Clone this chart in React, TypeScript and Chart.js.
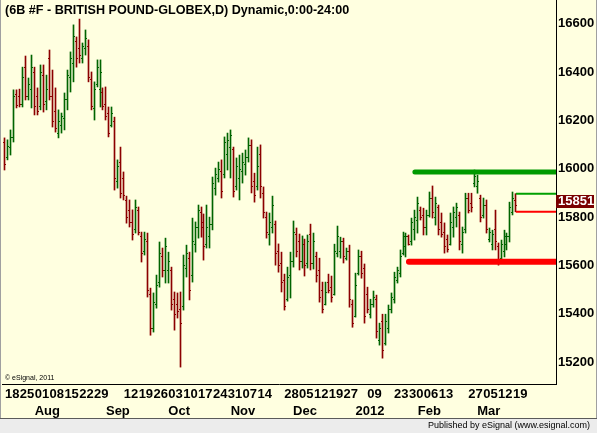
import React, { useEffect, useRef } from 'react';
import { Chart, registerables } from 'chart.js';

Chart.register(...registerables);

const TITLE = '(6B #F - BRITISH POUND-GLOBEX,D) Dynamic,0:00-24:00';
const COPYRIGHT = '\u00A9 eSignal, 2011';
const PUBLISHER = 'Published by eSignal (www.esignal.com)';

const OPEN = [
  16110, 16050, 16090, 16130, 16310, 16300, 16270, 16420, 16300, 16330,
  16400, 16300, 16260, 16390, 16280, 16460, 16300, 16240, 16150, 16180,
  16210, 16290, 16380, 16440, 16530, 16500, 16460, 16500, 16510, 16370,
  16250, 16350, 16330, 16320, 16270, 16230, 16180, 16200, 15950, 16030,
  15960, 15870, 15830, 15780, 15750, 15830, 15720, 15660, 15700, 15480,
  15340, 15440, 15530, 15640, 15580, 15580, 15580, 15460, 15440, 15420,
  15430, 15590, 15630, 15560, 15690, 15760, 15820, 15780, 15690, 15720,
  15770, 15920, 15960, 15990, 15980, 16060, 16090, 16080, 15930, 15960,
  15990, 16020, 16050, 16100, 15950, 15930, 16060, 15900, 15800, 15730,
  15760, 15770, 15660, 15610, 15540, 15460, 15560, 15620, 15730, 15700,
  15620, 15690, 15610, 15730, 15610, 15640, 15580, 15500, 15440, 15530,
  15510, 15480, 15650, 15660, 15700, 15630, 15660, 15440, 15390, 15570,
  15640, 15590, 15480, 15400, 15440, 15460, 15290, 15370, 15280, 15340,
  15420, 15460, 15540, 15570, 15650, 15680, 15720, 15700, 15750, 15790,
  15830, 15810, 15760, 15810, 15880, 15800, 15840, 15780, 15740, 15710,
  15690, 15760, 15800, 15810, 15690, 15750, 15880, 15860, 15940, 15930,
  15880, 15810, 15850, 15710, 15690, 15750, 15680, 15630, 15660, 15690,
  15720, 15820, 15870,
];

const HIGH = [
  16128, 16120, 16161, 16327, 16327, 16330, 16421, 16467, 16376, 16471,
  16421, 16335, 16430, 16430, 16388, 16492, 16409, 16335, 16244, 16231,
  16314, 16409, 16484, 16596, 16546, 16620, 16521, 16575, 16534, 16401,
  16360, 16451, 16451, 16335, 16339, 16256, 16256, 16214, 16037, 16090,
  15987, 15887, 15871, 15830, 15871, 15842, 15738, 15738, 15734, 15506,
  15486, 15560, 15697, 15672, 15713, 15655, 15593, 15490, 15486, 15490,
  15643, 15684, 15655, 15796, 15780, 15850, 15842, 15813, 15850, 15800,
  15966, 16003, 16028, 16037, 16132, 16148, 16161, 16090, 16045, 16057,
  16065, 16078, 16128, 16120, 15982, 16090, 16099, 15925, 15821, 15817,
  15887, 15784, 15689, 15655, 15564, 15593, 15655, 15784, 15755, 15730,
  15722, 15709, 15726, 15771, 15734, 15655, 15630, 15531, 15531, 15564,
  15556, 15688, 15763, 15717, 15713, 15672, 15684, 15457, 15568, 15664,
  15659, 15606, 15510, 15460, 15494, 15477, 15361, 15398, 15398, 15436,
  15486, 15572, 15593, 15664, 15738, 15734, 15726, 15796, 15829, 15883,
  15842, 15837, 15829, 15904, 15929, 15883, 15850, 15817, 15776, 15726,
  15817, 15842, 15858, 15821, 15759, 15899, 15899, 15899, 15995, 15974,
  15891, 15879, 15871, 15755, 15746, 15829, 15693, 15705, 15746, 15734,
  15862, 15904, 15897,
];

const LOW = [
  15995, 16037, 16057, 16111, 16252, 16256, 16256, 16285, 16285, 16252,
  16223, 16223, 16244, 16235, 16244, 16285, 16173, 16152, 16128, 16148,
  16161, 16244, 16318, 16360, 16421, 16438, 16438, 16471, 16360, 16244,
  16202, 16339, 16256, 16244, 16202, 16132, 16173, 15912, 15920, 15879,
  15871, 15775, 15759, 15705, 15734, 15726, 15614, 15643, 15469, 15311,
  15324, 15423, 15510, 15552, 15527, 15527, 15415, 15332, 15382, 15179,
  15415, 15552, 15457, 15531, 15655, 15713, 15717, 15622, 15672, 15672,
  15747, 15891, 15945, 15879, 15962, 15995, 15962, 15883, 15912, 15871,
  15941, 15974, 16028, 15900, 15862, 15912, 15879, 15796, 15713, 15684,
  15734, 15601, 15572, 15490, 15415, 15452, 15465, 15593, 15635, 15581,
  15589, 15556, 15589, 15581, 15585, 15531, 15448, 15403, 15436, 15486,
  15448, 15477, 15635, 15630, 15610, 15622, 15427, 15344, 15386, 15560,
  15547, 15361, 15403, 15382, 15427, 15299, 15270, 15216, 15270, 15320,
  15403, 15444, 15527, 15552, 15643, 15635, 15684, 15684, 15705, 15734,
  15788, 15726, 15726, 15800, 15796, 15767, 15726, 15717, 15651, 15655,
  15684, 15717, 15759, 15664, 15651, 15734, 15817, 15821, 15925, 15899,
  15780, 15796, 15734, 15697, 15664, 15664, 15601, 15622, 15635, 15664,
  15697, 15809, 15822,
];

const CLOSE = [
  16020, 16095, 16130, 16300, 16265, 16270, 16380, 16300, 16350, 16420,
  16260, 16240, 16400, 16270, 16330, 16300, 16200, 16170, 16200, 16220,
  16290, 16390, 16460, 16550, 16460, 16470, 16510, 16540, 16380, 16260,
  16330, 16420, 16400, 16260, 16220, 16150, 16230, 15960, 16010, 15900,
  15890, 15800, 15780, 15730, 15840, 15740, 15650, 15710, 15500, 15340,
  15450, 15520, 15650, 15580, 15680, 15620, 15440, 15400, 15410, 15360,
  15600, 15650, 15500, 15700, 15760, 15830, 15760, 15680, 15760, 15770,
  15940, 15980, 16000, 15910, 16110, 16120, 16140, 15910, 16010, 16000,
  16030, 16050, 16100, 15930, 15890, 16010, 15930, 15820, 15740, 15780,
  15850, 15650, 15600, 15530, 15430, 15550, 15620, 15740, 15660, 15620,
  15690, 15600, 15700, 15610, 15700, 15560, 15470, 15420, 15490, 15500,
  15470, 15660, 15720, 15700, 15640, 15660, 15460, 15360, 15520, 15640,
  15570, 15390, 15420, 15440, 15470, 15330, 15340, 15250, 15370, 15420,
  15470, 15550, 15580, 15640, 15720, 15720, 15690, 15780, 15800, 15860,
  15800, 15760, 15810, 15880, 15820, 15860, 15750, 15730, 15680, 15670,
  15780, 15820, 15840, 15700, 15740, 15880, 15830, 15840, 15970, 15950,
  15800, 15850, 15750, 15740, 15730, 15700, 15620, 15690, 15720, 15720,
  15840, 15880, 15851,
];

const DAY_TICK_INDEX = [0, 5, 10, 15, 20, 25, 30, 40, 45, 50, 55, 60, 65, 70, 75, 80, 85, 94, 99, 104, 109, 114, 122, 131, 136, 141, 146, 156, 161, 166, 171];
const DAY_TICK_LABELS = ['18', '25', '01', '08', '15', '22', '29', '12', '19', '26', '03', '10', '17', '24', '31', '07', '14', '28', '05', '12', '19', '27', '09', '23', '30', '06', '13', '27', '05', '12', '19'];
const MONTH_TICK_INDEX = [10, 34, 55, 76, 97, 118, 139, 159];
const MONTH_LABELS = ['Aug', 'Sep', 'Oct', 'Nov', 'Dec', '2012', 'Feb', 'Mar'];
const Y_TICKS = [15200, 15400, 15600, 15800, 16000, 16200, 16400, 16600];

const Y_MIN = 15109;
const Y_MAX = 16699;
const X_MIN = -1;
const X_MAX = 185.5;

const RESISTANCE = 15987;
const RES_START = 138;
const SUPPORT = 15615;
const SUP_START = 136;

const GREEN = '#006400';
const RED = '#8b0000';
const FONT = "'Liberation Sans', Arial, sans-serif";
const BAR_DS = 4;

export default function App() {
  const ref = useRef<HTMLCanvasElement>(null);

  useEffect(() => {
    const canvas = ref.current;
    if (!canvas) return;
    const n = HIGH.length;
    const last = n - 1;
    const colors = CLOSE.map((c, i) => (c >= OPEN[i] ? GREEN : RED));

    const decor = {
      id: 'decor',
      beforeDraw(chart: any) {
        const { ctx, width, height } = chart;
        ctx.save();
        ctx.fillStyle = '#ffffe0';
        ctx.fillRect(0, 0, width, 418);
        ctx.fillStyle = '#ececec';
        ctx.fillRect(0, 418, width, height - 418);
        ctx.fillStyle = '#5a5a5a';
        ctx.fillRect(0, 418, width, 1);
        ctx.fillStyle = '#a0a0a0';
        ctx.fillRect(0, 0, 1, 418);
        ctx.fillRect(width - 1, 0, 1, 418);
        ctx.restore();
      },
      afterDraw(chart: any) {
        const { ctx } = chart;
        ctx.save();
        ctx.fillStyle = '#000';
        ctx.textBaseline = 'middle';
        ctx.textAlign = 'left';
        ctx.font = `bold 12.6px ${FONT}`;
        ctx.fillText(TITLE, 5, 11);
        ctx.font = `7px ${FONT}`;
        ctx.fillText(COPYRIGHT, 5, 378);
        ctx.font = `9px ${FONT}`;
        ctx.textAlign = 'right';
        ctx.fillText(PUBLISHER, 590, 426);
        const ys = chart.scales.y;
        const xr = chart.chartArea.right;
        const yp = Math.round(ys.getPixelForValue(CLOSE[last]));
        ctx.fillStyle = '#7a0000';
        ctx.fillRect(xr, yp - 10, 38, 13);
        ctx.fillStyle = '#ffffff';
        ctx.textAlign = 'left';
        ctx.font = `bold 13px ${FONT}`;
        ctx.fillText(String(CLOSE[last]), xr + 2, yp - 3.5);
        ctx.restore();
      },
    };

    const ohlcTicks = {
      id: 'ohlcTicks',
      beforeDatasetDraw(chart: any, args: any) {
        if (args.index !== BAR_DS) return;
        args.meta.data.forEach((el: any) => {
          el.x = Math.round(el.x - 0.5) + 0.5;
        });
      },
      afterDatasetDraw(chart: any, args: any) {
        if (args.index !== BAR_DS) return;
        const ctx = chart.ctx;
        const ys = chart.scales.y;
        ctx.save();
        args.meta.data.forEach((el: any, i: number) => {
          const col = Math.floor(el.x);
          ctx.fillStyle = colors[i];
          ctx.fillRect(col - 1, Math.round(ys.getPixelForValue(OPEN[i])), 1, 1);
          ctx.fillRect(col + 1, Math.round(ys.getPixelForValue(CLOSE[i])), 1, 1);
        });
        ctx.restore();
      },
    };

    const tickFont = { family: FONT, size: 13, weight: 'bold' as const };

    const chart = new Chart(canvas, {
      type: 'bar',
      data: {
        datasets: [
          {
            type: 'line',
            data: [{ x: RES_START, y: RESISTANCE }, { x: X_MAX, y: RESISTANCE }],
            borderColor: '#009a00',
            borderWidth: 5,
            borderCapStyle: 'round',
            pointRadius: 0,
            fill: false,
            clip: 0,
          } as any,
          {
            type: 'line',
            data: [{ x: SUP_START, y: SUPPORT }, { x: X_MAX, y: SUPPORT }],
            borderColor: '#ff0000',
            borderWidth: 6,
            borderCapStyle: 'round',
            pointRadius: 0,
            fill: false,
            clip: 0,
          } as any,
          {
            type: 'line',
            data: [{ x: last, y: HIGH[last] }, { x: X_MAX, y: HIGH[last] }],
            borderColor: '#00a000',
            borderWidth: 2,
            pointRadius: 0,
            fill: false,
            clip: 0,
          } as any,
          {
            type: 'line',
            data: [{ x: last, y: LOW[last] }, { x: X_MAX, y: LOW[last] }],
            borderColor: '#ff0000',
            borderWidth: 2,
            pointRadius: 0,
            fill: false,
            clip: 0,
          } as any,
          {
            type: 'bar',
            data: HIGH.map((h, i) => ({ x: i, y: [LOW[i], h] })),
            backgroundColor: colors,
            borderWidth: 0,
            barThickness: 1,
            grouped: false,
          } as any,
        ],
      },
      options: {
        animation: false,
        responsive: false,
        devicePixelRatio: 1,
        events: [],
        layout: { padding: { left: 2, right: 0, top: 0, bottom: 15 } },
        plugins: { legend: { display: false }, tooltip: { enabled: false }, title: { display: false } },
        scales: {
          x: {
            type: 'linear',
            position: 'bottom',
            weight: 0,
            min: X_MIN,
            max: X_MAX,
            offset: false,
            grid: { display: false, drawTicks: false },
            border: { display: true, color: '#000', width: 1 },
            afterBuildTicks: (s: any) => {
              s.ticks = DAY_TICK_INDEX.map((v) => ({ value: v }));
            },
            afterFit: (s: any) => {
              s.height = 18;
              s.paddingLeft = 0;
              s.paddingRight = 0;
            },
            ticks: {
              autoSkip: false,
              maxRotation: 0,
              minRotation: 0,
              align: 'start',
              padding: 3,
              font: tickFont,
              color: '#000',
              callback: (_v: any, i: number) => DAY_TICK_LABELS[i],
            },
          } as any,
          x2: {
            type: 'linear',
            axis: 'x',
            position: 'bottom',
            weight: 1,
            min: X_MIN,
            max: X_MAX,
            offset: false,
            grid: { display: false, drawTicks: false },
            border: { display: false },
            afterBuildTicks: (s: any) => {
              s.ticks = MONTH_TICK_INDEX.map((v) => ({ value: v }));
            },
            afterFit: (s: any) => {
              s.height = 16;
              s.paddingLeft = 0;
              s.paddingRight = 0;
            },
            ticks: {
              autoSkip: false,
              maxRotation: 0,
              minRotation: 0,
              align: 'start',
              padding: 2,
              font: tickFont,
              color: '#000',
              callback: (_v: any, i: number) => MONTH_LABELS[i],
            },
          } as any,
          y: {
            type: 'linear',
            position: 'right',
            min: Y_MIN,
            max: Y_MAX,
            grid: { display: false, drawTicks: false },
            border: { display: true, color: '#000', width: 1 },
            afterBuildTicks: (s: any) => {
              s.ticks = Y_TICKS.map((v) => ({ value: v }));
            },
            afterFit: (s: any) => {
              s.width = 41;
              s.paddingTop = 0;
              s.paddingBottom = 0;
            },
            ticks: {
              padding: 2,
              font: tickFont,
              color: '#000',
              callback: (v: any) => String(v),
            },
          } as any,
        },
      },
      plugins: [decor, ohlcTicks],
    } as any);

    return () => chart.destroy();
  }, []);

  return (
    <div style={{ position: 'fixed', left: 0, top: 0, width: 597, height: 433 }}>
      <canvas ref={ref} width={597} height={433} style={{ display: 'block', width: 597, height: 433 }} />
    </div>
  );
}
